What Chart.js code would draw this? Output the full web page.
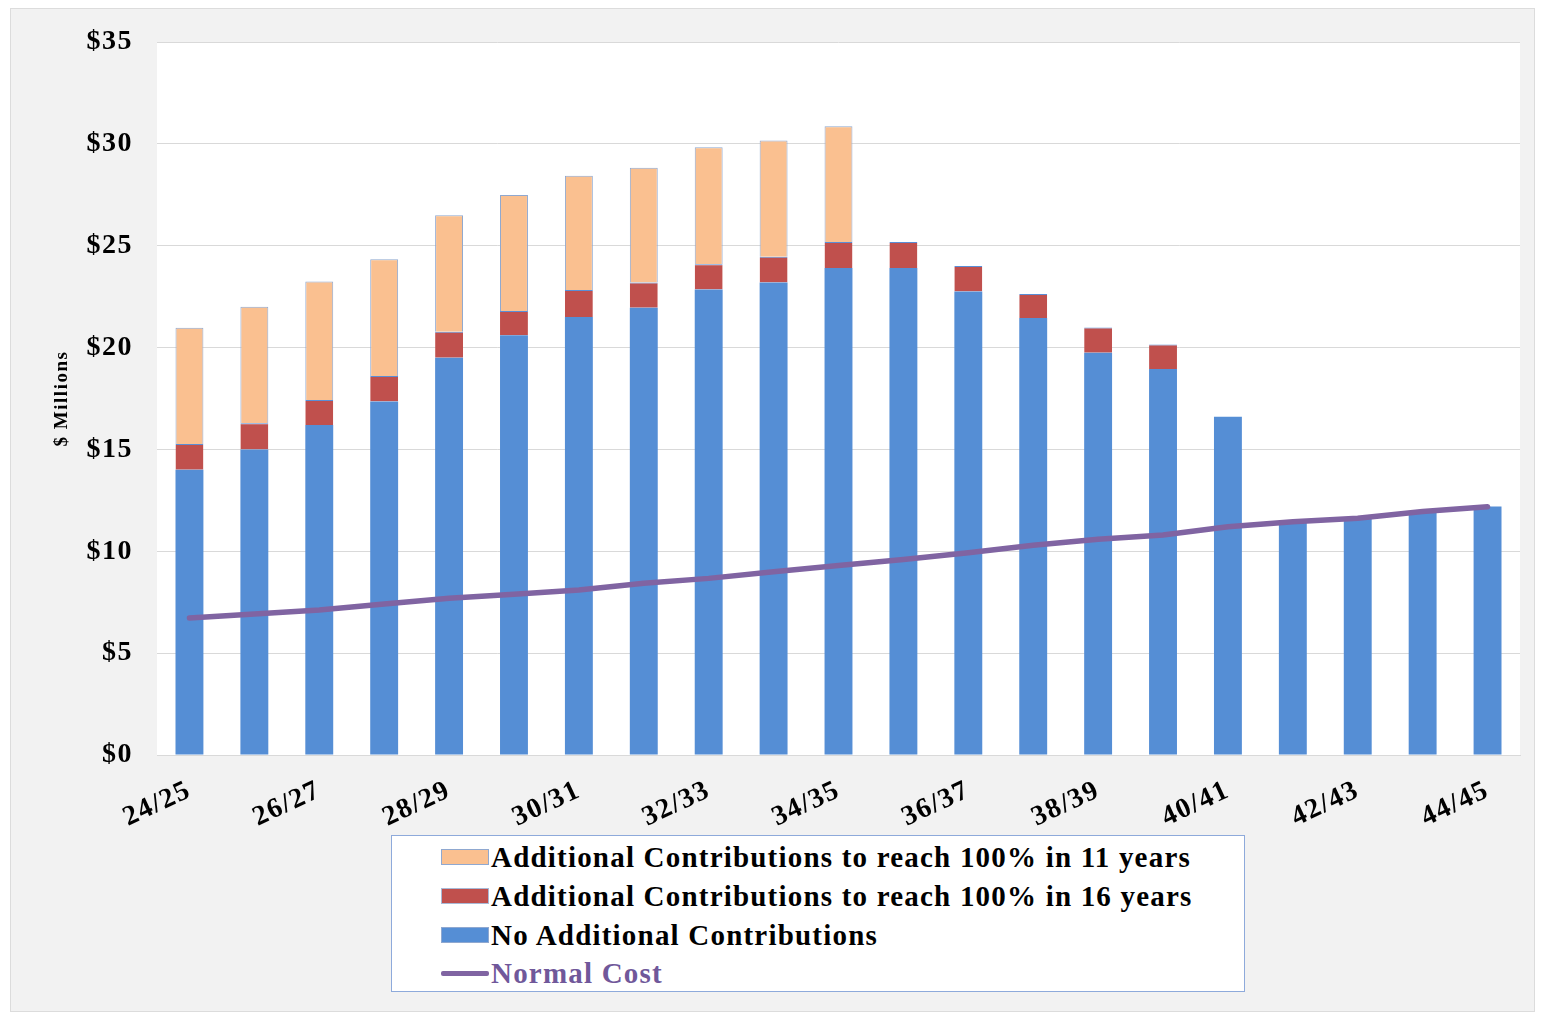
<!DOCTYPE html>
<html>
<head>
<meta charset="utf-8">
<script src="https://cdn.jsdelivr.net/npm/chart.js@4/dist/chart.umd.min.js"></script>
<style>
  html, body { margin: 0; padding: 0; background: #ffffff; }
  #wrap { position: relative; width: 1545px; height: 1022px; overflow: hidden; }
  #chart { position: absolute; left: 0; top: 0; }
  #legend {
    position: absolute; left: 391px; top: 835px; width: 852px; height: 155px;
    background: #ffffff; border: 1px solid #8eaadb;
    font-family: "Liberation Serif", "Times New Roman", serif; font-weight: bold;
    font-size: 29px; letter-spacing: 1.2px; color: #000;
  }
  .row { position: absolute; left: 49px; height: 32px; display: flex; align-items: center; white-space: nowrap; }
  .sw { width: 48px; height: 16px; box-sizing: border-box; margin-right: 2px; flex: none; }
  .ln { width: 48px; height: 5px; margin-right: 2px; flex: none; border-radius: 2px; }
</style>
</head>
<body>
<div id="wrap">
  <canvas id="chart" width="1545" height="1022"></canvas>
  <div id="legend"></div>
</div>
<script>
const years = ['24/25','25/26','26/27','27/28','28/29','29/30','30/31','31/32','32/33','33/34','34/35',
               '35/36','36/37','37/38','38/39','39/40','40/41','41/42','42/43','43/44','44/45'];
const noAdditional = [14.0, 15.0, 16.2, 17.35, 19.5, 20.6, 21.5, 21.95, 22.85, 23.2, 23.9,
                      23.9, 22.75, 21.45, 19.75, 18.95, 16.6, 11.4, 11.6, 11.9, 12.2];
const add16 = [1.27, 1.28, 1.23, 1.25, 1.28, 1.2, 1.33, 1.25, 1.24, 1.26, 1.28,
               1.28, 1.25, 1.18, 1.23, 1.2, null, null, null, null, null];
const add11 = [5.7, 5.72, 5.81, 5.73, 5.72, 5.69, 5.61, 5.63, 5.74, 5.7, 5.68,
               null, null, null, null, null, null, null, null, null, null];
const normalCost = [6.72, 6.92, 7.12, 7.41, 7.7, 7.89, 8.1, 8.43, 8.67, 9.0, 9.3,
                    9.6, 9.93, 10.3, 10.59, 10.8, 11.2, 11.45, 11.62, 11.95, 12.19];
const yTicks = [0, 5, 10, 15, 20, 25, 30, 35];

const seriesNames = [
  'Additional Contributions to reach 100% in 11 years',
  'Additional Contributions to reach 100% in 16 years',
  'No Additional Contributions',
  'Normal Cost'
];
const colors = { c11: '#fac090', c16: '#c0504d', none: '#558ed5', nc: '#8064a2' };

const SPACING = '1.5px';
const spacingPlugin = {
  id: 'spacing',
  beforeUpdate(c) { c.ctx.letterSpacing = SPACING; },
  beforeLayout(c) { c.ctx.letterSpacing = SPACING; },
  beforeDraw(c) { c.ctx.letterSpacing = SPACING; }
};
const bgPlugin = {
  id: 'bg',
  beforeDraw(c) {
    const ctx = c.ctx, a = c.chartArea;
    ctx.save();
    ctx.fillStyle = '#ffffff';
    ctx.fillRect(0, 0, c.width, c.height);
    ctx.fillStyle = '#f2f2f2';
    ctx.fillRect(10, 8, 1525, 1004);
    ctx.strokeStyle = '#dcdcdc';
    ctx.lineWidth = 1;
    ctx.strokeRect(10.5, 8.5, 1524, 1003);
    ctx.fillStyle = '#ffffff';
    ctx.fillRect(a.left, a.top, a.right - a.left, a.bottom - a.top);
    ctx.restore();
  }
};

const serif = '"Liberation Serif", "Times New Roman", serif';

new Chart(document.getElementById('chart'), {
  type: 'bar',
  data: {
    labels: years,
    datasets: [
      { type: 'line', label: seriesNames[3], data: normalCost, borderColor: colors.nc,
        backgroundColor: colors.nc, borderWidth: 5.5, pointRadius: 0, tension: 0,
        stack: 'nc', order: 0, borderCapStyle: 'round' },
      { label: seriesNames[2], data: noAdditional, backgroundColor: colors.none,
        borderWidth: 0, order: 1, stack: 's' },
      { label: seriesNames[1], data: add16, backgroundColor: colors.c16,
        borderColor: '#5a8ed6', borderWidth: { top: 1, left: 0, right: 0, bottom: 0 }, order: 1, stack: 's' },
      { label: seriesNames[0], data: add11, backgroundColor: colors.c11,
        borderColor: '#8fa8d0', borderWidth: { top: 1, left: 1, right: 1, bottom: 0 }, order: 1, stack: 's' }
    ]
  },
  options: {
    responsive: false,
    animation: false,
    devicePixelRatio: 1,
    datasets: { bar: { categoryPercentage: 1.0, barPercentage: 0.43 } },
    layout: { padding: { left: 0, right: 25, top: 42, bottom: 0 } },
    plugins: { legend: { display: false }, tooltip: { enabled: false } },
    scales: {
      x: {
        stacked: true,
        grid: { display: false, drawTicks: false },
        border: { display: true, color: '#d9d9d9', width: 1 },
        ticks: {
          autoSkip: false, minRotation: 25, maxRotation: 25, padding: 19,
          color: '#000', font: { family: serif, weight: 'bold', size: 28 },
          callback: function(v, i) { return i % 2 === 0 ? years[i] : ''; }
        },
        afterFit(s) { s.height = 267; }
      },
      y: {
        stacked: true, min: 0, max: 35,
        afterBuildTicks(s) { s.ticks = yTicks.map(v => ({ value: v })); },
        grid: { color: '#d9d9d9', lineWidth: 1, drawTicks: false },
        border: { display: false },
        ticks: {
          padding: 24, color: '#000', font: { family: serif, weight: 'bold', size: 28 },
          callback: v => '$' + v
        },
        title: {
          display: true, text: '$ Millions', color: '#000',
          font: { family: serif, weight: 'bold', size: 19 }, padding: { top: 51, bottom: 0 }
        },
        afterFit(s) { s.width = 157; }
      }
    }
  },
  plugins: [spacingPlugin, bgPlugin]
});

// HTML legend built from series names and colours
const legend = document.getElementById('legend');
const items = [
  { name: seriesNames[0], kind: 'box', color: colors.c11, border: '#8fa8d0' },
  { name: seriesNames[1], kind: 'box', color: colors.c16, border: '#a9b9d6' },
  { name: seriesNames[2], kind: 'box', color: colors.none, border: '#8fa8d0' },
  { name: seriesNames[3], kind: 'line', color: colors.nc, text: '#70589a' }
];
const rowCenters = [21, 60, 99, 137];
items.forEach((it, i) => {
  const row = document.createElement('div');
  row.className = 'row';
  row.style.top = (rowCenters[i] - 16) + 'px';
  const sw = document.createElement('div');
  if (it.kind === 'box') {
    sw.className = 'sw';
    sw.style.background = it.color;
    sw.style.border = '1px solid ' + it.border;
  } else {
    sw.className = 'ln';
    sw.style.background = it.color;
  }
  const t = document.createElement('span');
  t.textContent = it.name;
  if (it.text) t.style.color = it.text;
  row.appendChild(sw);
  row.appendChild(t);
  legend.appendChild(row);
});
</script>
</body>
</html>
